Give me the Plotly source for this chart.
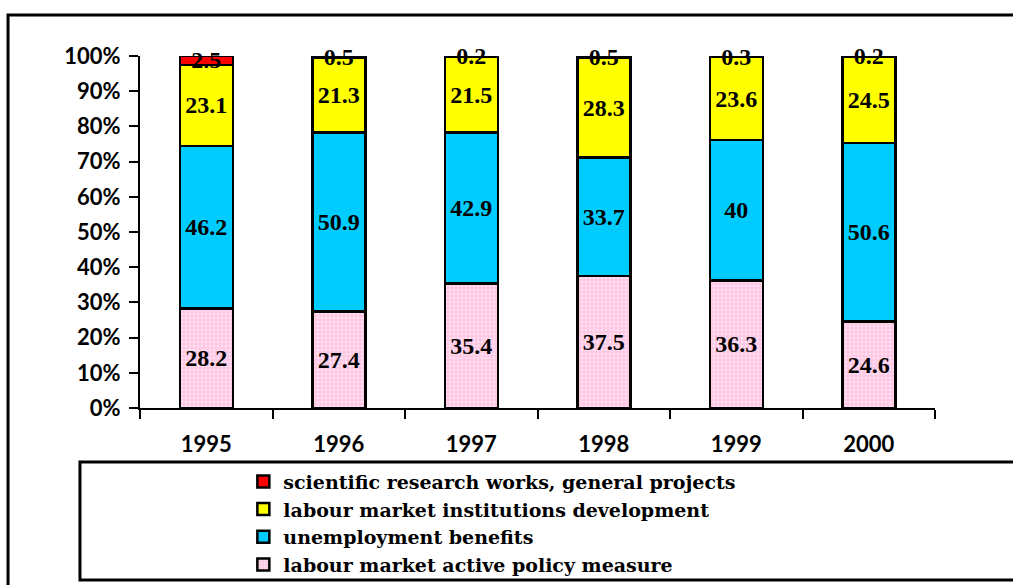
import plotly.graph_objects as go

years = ["1995", "1996", "1997", "1998", "1999", "2000"]
active_policy = [28.2, 27.4, 35.4, 37.5, 36.3, 24.6]
unemployment = [46.2, 50.9, 42.9, 33.7, 40.0, 50.6]
institutions = [23.1, 21.3, 21.5, 28.3, 23.6, 24.5]
research = [2.5, 0.5, 0.2, 0.5, 0.3, 0.2]
y_ticks = [0, 10, 20, 30, 40, 50, 60, 70, 80, 90, 100]
y_tick_labels = [f"{v}%" for v in y_ticks]

series = [
    ("labour market active policy measure", active_policy, "#FFC8E4"),
    ("unemployment benefits", unemployment, "#00CCFF"),
    ("labour market institutions development", institutions, "#FFFF00"),
    ("scientific research works, general projects", research, "#FF0000"),
]

label_font = dict(family="Liberation Serif", size=24, color="black", weight="bold")
tick_font = dict(family="Lato", size=22, color="black", weight="bold")

fig = go.Figure()
for name, vals, col in series:
    marker = dict(color=col, line=dict(color="black", width=2.5))
    if name.startswith("labour market active"):
        marker["pattern"] = dict(shape=".", fgcolor="white", size=4, solidity=0.3)
    fig.add_trace(go.Bar(
        x=years, y=vals, name=name, marker=marker,
        text=[("%g" % v) for v in vals],
        textposition="inside", insidetextanchor="middle",
        constraintext="none", textangle=0,
        insidetextfont=label_font, textfont=label_font,
        width=0.4, cliponaxis=False,
    ))

fig.update_layout(
    barmode="stack", barnorm="percent",
    width=1013, height=585,
    margin=dict(l=140, r=78, t=56, b=177, autoexpand=False),
    plot_bgcolor="white", paper_bgcolor="white",
    showlegend=True,
    legend=dict(
        traceorder="reversed",
        x=0.13, xanchor="left", y=-0.155, yanchor="top",
        font=dict(family="DejaVu Serif", size=19, color="black", weight="bold"),
        bgcolor="rgba(0,0,0,0)", borderwidth=0,
        tracegroupgap=0, itemwidth=30,
    ),
    xaxis=dict(
        showline=True, linecolor="black", linewidth=2,
        ticks="outside", tickson="boundaries", ticklen=9, tickwidth=2, tickcolor="black",
        tickfont=tick_font, showgrid=False, ticklabelstandoff=16,
    ),
    yaxis=dict(
        range=[0, 100], tickvals=y_ticks, ticktext=y_tick_labels,
        showline=True, linecolor="black", linewidth=2,
        ticks="outside", ticklen=9, tickwidth=2, tickcolor="black",
        tickfont=tick_font, showgrid=False, zeroline=False, ticklabelstandoff=4,
    ),
    shapes=[
        dict(type="rect", xref="paper", yref="paper",
             x0=-0.166, x1=1.3, y0=-0.6, y1=1.1165,
             line=dict(color="black", width=3), fillcolor="rgba(0,0,0,0)", layer="below"),
        dict(type="rect", xref="paper", yref="paper",
             x0=-0.0755, x1=1.3, y0=-0.4886, y1=-0.1534,
             line=dict(color="black", width=3), fillcolor="rgba(0,0,0,0)", layer="below"),
    ],
)

fig.write_html("out.html", config={"displayModeBar": False},
               post_script="document.body.style.margin='0';")
